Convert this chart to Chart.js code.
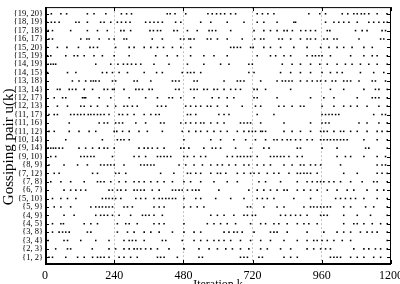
<!DOCTYPE html>
<html lang="en">
<head>
    <meta charset="UTF-8">
    <title>Gossiping pair per iteration</title>
    <script src="https://cdn.jsdelivr.net/npm/chart.js"></script>
    <style>
        html, body {
            margin: 0;
            padding: 0;
            background: #fff;
            overflow: hidden;
        }

        .wrap {
            width: 400px;
            height: 292px;
        }
    </style>
</head>
<body>
    <div class="wrap"><canvas id="gossip"></canvas></div>

    <script>
        // pairs, bottom row first
        const pairs = ['1, 2', '2, 3', '3, 4', '3, 8', '4, 5', '4, 9', '5, 9', '5, 10', '6, 7', '7, 8',
            '7, 12', '8, 9', '9, 10', '9, 14', '10, 14', '11, 12', '11, 16', '11, 17', '12, 13', '12, 17',
            '13, 14', '13, 18', '14, 15', '14, 19', '15, 19', '15, 20', '16, 17', '17, 18', '18, 19', '19, 20'];

        const xTicks = [0, 240, 480, 720, 960, 1200];

        // iterations k at which each pair was picked
        const k_1_2 = [14, 26, 72, 113, 136, 165, 182, 193, 205, 222, 257, 274, 297, 320, 390, 401, 413, 459, 534, 546, 678, 690, 702, 742, 754, 829, 852, 875, 990, 1002, 1013, 1025, 1060, 1083, 1106, 1140, 1164];
        const k_2_3 = [37, 78, 89, 164, 222, 245, 274, 292, 309, 320, 332, 349, 367, 390, 430, 482, 534, 569, 598, 627, 650, 678, 707, 748, 771, 817, 852, 909, 932, 956, 973, 990, 1071, 1106, 1123, 1146, 1164, 1187];
        const k_3_4 = [11, 66, 78, 124, 176, 222, 274, 292, 303, 315, 344, 407, 419, 476, 517, 540, 563, 586, 603, 621, 644, 678, 713, 748, 782, 829, 875, 909, 932, 944, 961, 979, 1002, 1031, 1060, 1187];
        const k_3_8 = [26, 49, 61, 72, 84, 147, 159, 251, 286, 309, 344, 367, 396, 442, 482, 517, 540, 621, 638, 655, 667, 684, 725, 782, 794, 805, 840, 909, 967, 1013, 1036, 1060, 1094, 1117, 1135, 1152, 1187];
        const k_4_5 = [26, 55, 64, 136, 159, 182, 251, 280, 292, 320, 378, 396, 413, 482, 563, 586, 609, 632, 661, 713, 748, 765, 794, 811, 840, 875, 898, 915, 944, 1036, 1071, 1083, 1106, 1135, 1164, 1187];
        const k_4_9 = [66, 101, 176, 193, 205, 217, 234, 257, 297, 338, 349, 361, 378, 407, 575, 598, 621, 655, 690, 702, 719, 730, 817, 834, 852, 869, 886, 909, 956, 967, 979, 1036, 1083, 1129, 1187];
        const k_5_9 = [32, 55, 89, 159, 176, 188, 199, 211, 222, 234, 274, 286, 303, 378, 396, 413, 482, 505, 528, 551, 702, 713, 759, 805, 829, 898, 921, 932, 944, 956, 967, 979, 990, 1036, 1060, 1112, 1140, 1187];
        const k_5_10 = [26, 55, 78, 107, 199, 211, 222, 234, 245, 263, 315, 332, 349, 378, 396, 407, 419, 430, 442, 453, 482, 523, 540, 592, 644, 690, 736, 754, 771, 794, 863, 921, 1008, 1025, 1042, 1060, 1077, 1106, 1152, 1187];
        const k_6_7 = [66, 89, 107, 124, 141, 222, 234, 251, 263, 280, 309, 320, 332, 344, 372, 396, 442, 453, 465, 476, 494, 511, 523, 534, 603, 707, 736, 759, 782, 805, 829, 840, 875, 898, 921, 944, 979, 1013, 1048, 1071, 1117, 1152, 1175];
        const k_7_8 = [20, 55, 89, 136, 182, 193, 205, 228, 257, 280, 309, 326, 344, 367, 390, 413, 442, 482, 505, 540, 586, 632, 667, 742, 765, 817, 875, 909, 927, 944, 956, 967, 985, 1002, 1025, 1060, 1100, 1140, 1152, 1187];
        const k_7_12 = [32, 49, 165, 182, 245, 257, 280, 401, 447, 494, 505, 523, 540, 575, 598, 609, 627, 667, 690, 713, 725, 742, 771, 794, 811, 846, 875, 886, 898, 909, 921, 944, 1036, 1083, 1152, 1169, 1187];
        const k_8_9 = [14, 66, 113, 147, 193, 205, 217, 228, 240, 274, 332, 344, 355, 367, 378, 465, 488, 517, 546, 575, 598, 615, 638, 661, 690, 707, 736, 759, 782, 829, 857, 886, 898, 921, 938, 956, 1025, 1152, 1169, 1181];
        const k_9_10 = [20, 37, 124, 136, 147, 159, 170, 234, 309, 326, 349, 390, 401, 413, 424, 436, 482, 494, 517, 540, 557, 632, 650, 667, 678, 690, 702, 713, 736, 782, 794, 805, 817, 829, 846, 875, 892, 1013, 1042, 1060, 1106, 1152, 1181];
        const k_9_14 = [11, 20, 29, 37, 49, 61, 118, 141, 165, 188, 205, 217, 240, 326, 344, 357, 372, 390, 413, 471, 482, 499, 551, 580, 592, 609, 661, 713, 759, 777, 875, 886, 961, 1013, 1112, 1123, 1187];
        const k_10_14 = [72, 199, 251, 263, 274, 292, 482, 575, 609, 655, 696, 730, 765, 794, 805, 823, 840, 852, 869, 886, 909, 927, 956, 967, 979, 990, 1002, 1013, 1025, 1036, 1048, 1106, 1152, 1187];
        const k_11_12 = [14, 32, 84, 118, 153, 176, 240, 249, 269, 292, 326, 355, 407, 476, 499, 523, 540, 563, 586, 609, 632, 667, 690, 707, 719, 730, 748, 754, 765, 829, 857, 886, 921, 956, 967, 979, 1002, 1025, 1036, 1060, 1083, 1117, 1152, 1169, 1187];
        const k_11_16 = [84, 188, 205, 217, 245, 257, 269, 315, 349, 401, 413, 471, 488, 505, 523, 540, 551, 575, 598, 621, 678, 690, 702, 713, 748, 829, 921, 961, 973, 985, 1089, 1117, 1158, 1187];
        const k_11_17 = [14, 32, 43, 89, 101, 113, 124, 136, 150, 159, 170, 182, 193, 205, 222, 257, 269, 286, 309, 344, 367, 384, 396, 494, 505, 523, 603, 621, 638, 736, 794, 961, 973, 985, 996, 1008, 1019, 1140, 1169, 1181];
        const k_12_13 = [43, 78, 124, 136, 159, 182, 217, 245, 274, 286, 303, 320, 390, 404, 419, 488, 505, 523, 540, 563, 575, 598, 632, 684, 730, 748, 811, 829, 857, 886, 898, 961, 1002, 1036, 1060, 1083, 1117, 1158, 1187];
        const k_12_17 = [32, 61, 72, 130, 136, 141, 188, 228, 292, 349, 390, 430, 442, 471, 517, 580, 603, 632, 655, 725, 736, 805, 921, 967, 1002, 1083, 1135, 1146, 1158, 1187];
        const k_13_14 = [43, 52, 84, 95, 107, 136, 165, 205, 217, 234, 240, 274, 315, 326, 338, 361, 372, 453, 465, 505, 517, 528, 551, 563, 586, 598, 621, 644, 661, 678, 725, 736, 765, 852, 990, 1036, 1106, 1146, 1158, 1187];
        const k_13_18 = [95, 118, 141, 159, 168, 176, 188, 234, 245, 309, 320, 367, 442, 453, 465, 517, 528, 621, 667, 678, 690, 748, 805, 823, 834, 846, 857, 886, 909, 927, 944, 956, 973, 996, 1008, 1036, 1048, 1060, 1089, 1135, 1146, 1181];
        const k_14_15 = [9, 78, 107, 199, 214, 234, 257, 286, 344, 387, 407, 476, 494, 505, 517, 540, 707, 725, 817, 852, 886, 921, 961, 990, 1013, 1031, 1094, 1140, 1175];
        const k_14_19 = [11, 20, 29, 37, 176, 228, 253, 272, 286, 300, 315, 332, 378, 430, 494, 551, 609, 638, 707, 719, 823, 857, 886, 921, 953, 979, 1013, 1042, 1065, 1094, 1123, 1152, 1187];
        const k_15_19 = [9, 20, 72, 101, 113, 136, 170, 199, 240, 292, 384, 424, 459, 505, 551, 586, 632, 736, 782, 800, 829, 852, 909, 927, 938, 950, 961, 990, 1060, 1106, 1135, 1152, 1187];
        const k_15_20 = [6, 43, 76, 116, 156, 168, 182, 245, 292, 309, 344, 367, 390, 411, 442, 471, 505, 644, 655, 667, 678, 713, 722, 759, 782, 817, 863, 909, 956, 985, 1013, 1036, 1065, 1106, 1135];
        const k_16_17 = [14, 26, 124, 145, 153, 188, 222, 240, 274, 283, 372, 407, 470, 482, 499, 505, 517, 563, 575, 598, 632, 684, 727, 748, 759, 811, 823, 852, 886, 909, 921, 938, 967, 979, 1002, 1013, 1089, 1164, 1175];
        const k_17_18 = [11, 26, 89, 147, 182, 216, 263, 274, 297, 364, 376, 390, 401, 447, 459, 494, 528, 569, 580, 592, 644, 725, 759, 782, 805, 829, 840, 858, 887, 904, 921, 938, 979, 988, 1077, 1100, 1117, 1169, 1181];
        const k_18_19 = [6, 22, 34, 49, 107, 118, 147, 193, 205, 228, 251, 265, 280, 295, 349, 364, 378, 392, 407, 453, 471, 540, 575, 632, 690, 736, 759, 805, 863, 869, 973, 1002, 1019, 1036, 1054, 1083, 1123, 1140, 1158, 1175, 1187];
        const k_19_20 = [22, 55, 75, 147, 170, 211, 265, 283, 300, 424, 434, 451, 488, 565, 580, 595, 609, 623, 644, 661, 736, 754, 773, 794, 915, 953, 973, 1031, 1050, 1071, 1083, 1097, 1108, 1123, 1152, 1186];

        const rows = [k_1_2, k_2_3, k_3_4, k_3_8, k_4_5, k_4_9, k_5_9, k_5_10, k_6_7, k_7_8,
            k_7_12, k_8_9, k_9_10, k_9_14, k_10_14, k_11_12, k_11_16, k_11_17, k_12_13, k_12_17,
            k_13_14, k_13_18, k_14_15, k_14_19, k_15_19, k_15_20, k_16_17, k_17_18, k_18_19, k_19_20];

        const points = [];
        rows.forEach((ks, i) => ks.forEach(k => points.push({ x: k, y: i })));

        const serif = "'Liberation Serif', 'DejaVu Serif', serif";

        // box round the plot, thick left/bottom, small inward ticks
        const framePlugin = {
            id: 'frame',
            afterDatasetsDraw(chart) {
                const { ctx, chartArea: a, scales } = chart;
                ctx.save();
                ctx.strokeStyle = '#000';
                ctx.lineWidth = 1;
                ctx.beginPath();
                pairs.forEach((p, i) => {
                    const y = Math.round(scales.y.getPixelForValue(i)) + 0.5;
                    ctx.moveTo(a.left, y); ctx.lineTo(a.left + 4, y);
                    ctx.moveTo(a.right - 4, y); ctx.lineTo(a.right, y);
                });
                xTicks.forEach(t => {
                    const x = Math.round(scales.x.getPixelForValue(t)) + 0.5;
                    ctx.moveTo(x, a.bottom); ctx.lineTo(x, a.bottom - 4);
                    ctx.moveTo(x, a.top); ctx.lineTo(x, a.top + 4);
                });
                ctx.stroke();
                ctx.lineWidth = 1;
                ctx.strokeRect(a.left + 0.5, a.top + 0.5, a.right - a.left - 1, a.bottom - a.top);
                ctx.lineWidth = 2;
                ctx.beginPath();
                ctx.moveTo(a.left + 1, a.top);
                ctx.lineTo(a.left + 1, a.bottom);
                ctx.lineTo(a.right, a.bottom);
                ctx.stroke();
                ctx.restore();
            }
        };

        new Chart(document.getElementById('gossip'), {
            type: 'scatter',
            data: {
                datasets: [{
                    data: points,
                    backgroundColor: '#000',
                    borderColor: '#000',
                    pointRadius: 1.1,
                    pointBorderWidth: 0,
                    pointStyle: 'rect'
                }]
            },
            options: {
                responsive: true,
                maintainAspectRatio: false,
                animation: false,
                layout: { padding: { top: 7, right: 9, left: 0, bottom: 0 } },
                plugins: {
                    legend: { display: false },
                    tooltip: { enabled: false }
                },
                scales: {
                    x: {
                        type: 'linear',
                        min: 0,
                        max: 1200,
                        afterBuildTicks: s => { s.ticks = xTicks.map(v => ({ value: v })); },
                        afterFit: s => { s.height = 28; s.paddingLeft = 0; s.paddingRight = 0; },
                        ticks: {
                            color: '#000',
                            padding: 5,
                            maxRotation: 0,
                            font: { family: serif, size: 12 },
                            callback: v => String(v)
                        },
                        grid: {
                            drawTicks: false,
                            color: c => (c.tick && (c.tick.value === 0 || c.tick.value === 1200)) ? 'rgba(0,0,0,0)' : '#c4c4c4',
                            lineWidth: 1
                        },
                        border: { display: false, dash: [2, 2] },
                        title: {
                            display: true,
                            text: 'Iteration k',
                            color: '#000',
                            padding: { top: 0, bottom: 0 },
                            font: { family: serif, size: 12 }
                        }
                    },
                    y: {
                        type: 'linear',
                        min: -0.8,
                        max: 29.8,
                        afterBuildTicks: s => { s.ticks = pairs.map((p, i) => ({ value: i })); },
                        afterFit: s => { s.width = 45; },
                        ticks: {
                            color: '#000',
                            padding: 2,
                            autoSkip: false,
                            font: { family: serif, size: 8.5 },
                            callback: v => '{' + pairs[v] + '}'
                        },
                        grid: { display: false, drawTicks: false },
                        border: { display: false },
                        title: {
                            display: true,
                            text: 'Gossiping pair u(k)      ',
                            color: '#000',
                            padding: { top: 0, bottom: 0 },
                            font: { family: serif, size: 15 }
                        }
                    }
                }
            },
            plugins: [framePlugin]
        });
    </script>
</body>
</html>
